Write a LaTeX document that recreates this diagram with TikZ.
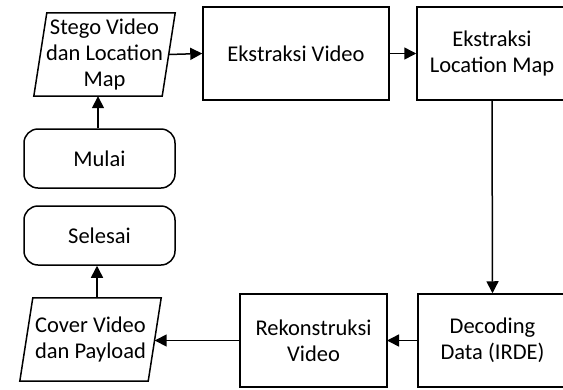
\documentclass[tikz,border=0pt]{standalone}
\usepackage{fontspec}
\setmainfont{Carlito}
\usetikzlibrary{arrows.meta}
\begin{document}
\begin{tikzpicture}[x=1pt,y=-1pt,
  every node/.style={font=\fontsize{22.5}{26}\selectfont, align=center, inner sep=0pt},
  procbox/.style={draw, line width=1.5pt, minimum width=#1},
  termbox/.style={draw, line width=1.5pt, rounded corners=14pt, minimum width=151pt, minimum height=59pt},
  iobox/.style={minimum width=128pt, minimum height=83pt},
  edge/.style={line width=1.5pt},
  arr/.style={edge, -{Triangle[length=12pt,width=12pt]}}
]
\useasboundingbox (0,0) rectangle (563,389);
% parallelogram nodes (outline drawn separately)
\node[iobox] (stego) at (104.5,54.5) {Stego Video\\dan Location\\Map};
\draw[edge] ([xshift=6.5pt]stego.north west) -- ([xshift=6.5pt]stego.north east)
  -- ([xshift=-6.5pt]stego.south east) -- ([xshift=-6.5pt]stego.south west) -- cycle;
\node[iobox] (cover) at (90.5,339.5) {Cover Video\\dan Payload};
\draw[edge] ([xshift=6.5pt]cover.north west) -- ([xshift=6.5pt]cover.north east)
  -- ([xshift=-6.5pt]cover.south east) -- ([xshift=-6.5pt]cover.south west) -- cycle;

\node[termbox] (mulai) at (99.5,158.5) {Mulai};
\node[termbox] (selesai) at (99.5,235.5) {Selesai};

\node[procbox=186pt, minimum height=93pt] (evid) at (296,53.5) {Ekstraksi Video};
\node[procbox=150pt, minimum height=93pt] (elm) at (492,53.5) {Ekstraksi\\Location Map};
\node[procbox=149pt, minimum height=93pt] (dec) at (492.5,340.5) {Decoding\\Data (IRDE)};
\node[procbox=147pt, minimum height=93pt] (rek) at (313.5,340.5) {Rekonstruksi\\Video};

\draw[arr] (mulai.north -| 98,0) -- (stego.south -| 98,0);
\draw[arr] (stego.east) -- (evid.west);
\draw[arr] (evid.east) -- (elm.west);
\draw[arr] (elm.south) -- (dec.north);
\draw[arr] (dec.west) -- (rek.west -| 387,0);
\draw[arr] (rek.west) -- (rek.west -| cover.east);
\draw[arr] (cover.north -| 97,0) -- (selesai.south -| 97,0);
\end{tikzpicture}
\end{document}
